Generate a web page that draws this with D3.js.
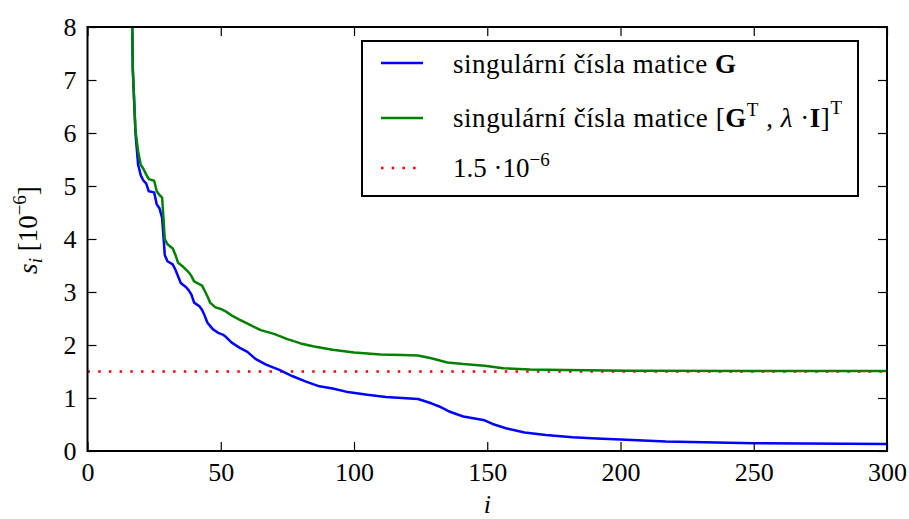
<!DOCTYPE html>
<html>
<head>
<meta charset="utf-8">
<script src="https://cdn.jsdelivr.net/npm/d3@7"></script>
<style>
    body { margin: 0; background: #fff; }
</style>
</head>
<body>
<div id="chart"></div>
<script>
// singular values, as [index, value in 1e-6]
var blueIdx = [1, 5, 10, 14, 16, 17, 18, 19, 20, 21, 22, 23, 25, 26, 27, 28, 29, 30, 32, 33, 35, 37, 38, 39, 40, 42, 43, 44, 45, 46, 47, 49, 51, 52, 54, 57, 60, 63, 67, 72, 77, 82, 87, 92, 97, 105, 112, 118, 124, 129, 132, 136, 141, 149, 152, 157, 164, 172, 182, 191, 200, 217, 250, 300];
var blueVal = [60, 35, 20, 13, 11, 7.2, 6.0, 5.4, 5.2, 5.1, 5.05, 4.9, 4.88, 4.65, 4.58, 4.4, 3.7, 3.58, 3.52, 3.42, 3.17, 3.09, 3.03, 2.95, 2.8, 2.73, 2.66, 2.55, 2.42, 2.36, 2.3, 2.23, 2.19, 2.15, 2.05, 1.95, 1.87, 1.74, 1.63, 1.53, 1.41, 1.31, 1.22, 1.18, 1.12, 1.06, 1.02, 1.0, 0.98, 0.9, 0.84, 0.74, 0.65, 0.58, 0.51, 0.43, 0.35, 0.30, 0.26, 0.235, 0.215, 0.178, 0.148, 0.132];

var greenIdx = [1, 5, 10, 14, 16, 17, 18, 19, 20, 21, 22, 23, 25, 26, 27, 28, 29, 30, 32, 33, 34, 36, 38, 39, 40, 43, 44, 45, 46, 48, 50, 52, 54, 57, 61, 65, 70, 75, 80, 85, 92, 100, 110, 118, 124, 129, 135, 141, 149, 156, 166, 179, 203, 250, 300];
var greenVal = [60, 35, 20, 13, 11, 7.2, 6.05, 5.65, 5.4, 5.32, 5.22, 5.13, 5.1, 4.9, 4.83, 4.78, 4.0, 3.9, 3.82, 3.7, 3.55, 3.47, 3.37, 3.3, 3.2, 3.12, 3.02, 2.92, 2.8, 2.71, 2.68, 2.63, 2.56, 2.48, 2.38, 2.28, 2.21, 2.11, 2.03, 1.97, 1.91, 1.86, 1.82, 1.81, 1.8, 1.75, 1.67, 1.64, 1.61, 1.56, 1.54, 1.53, 1.515, 1.51, 1.51];

var threshold = 1.5;
var xTicks = [0, 50, 100, 150, 200, 250, 300];
var yTicks = [0, 1, 2, 3, 4, 5, 6, 7, 8];

var serif = "Liberation Serif";

var totalWidth = 909,
    totalHeight = 519,
    margin = {top: 27, right: 22, bottom: 68, left: 87.5};

var width = totalWidth - margin.left - margin.right,
    height = totalHeight - margin.top - margin.bottom;

var xScale = d3.scaleLinear().domain([0, 300]).range([0, width]),
    yScale = d3.scaleLinear().domain([0, 8]).range([height, 0]);

var svg = d3.select("#chart").append("svg")
    .attr("width", totalWidth)
    .attr("height", totalHeight)
    .attr("font-family", serif);

var g = svg.append("g")
    .attr("transform", "translate(" + margin.left + "," + margin.top + ")");

g.append("clipPath").attr("id", "plotClip")
    .append("rect")
    .attr("width", width)
    .attr("height", height);

var toPoints = function(idx, vals) {
    return idx.map(function(d, i) { return [d, vals[i]]; });
};

var line = d3.line()
    .x(function(d) { return xScale(d[0]); })
    .y(function(d) { return yScale(d[1]); });

var plot = g.append("g").attr("clip-path", "url(#plotClip)");

plot.append("line")
    .attr("x1", xScale(0)).attr("x2", xScale(300))
    .attr("y1", yScale(threshold)).attr("y2", yScale(threshold))
    .attr("stroke", "#ff0000")
    .attr("stroke-width", 2.5)
    .attr("stroke-dasharray", "2.5,8.2");

plot.append("path")
    .datum(toPoints(blueIdx, blueVal))
    .attr("d", line)
    .attr("fill", "none")
    .attr("stroke", "#0000ff")
    .attr("stroke-width", 2.5)
    .attr("stroke-linejoin", "round");

plot.append("path")
    .datum(toPoints(greenIdx, greenVal))
    .attr("d", line)
    .attr("fill", "none")
    .attr("stroke", "#008000")
    .attr("stroke-width", 2.5)
    .attr("stroke-linejoin", "round");

// axes, ticks pointing inward on all four sides
var styleAxis = function(sel) {
    sel.attr("font-family", serif).attr("font-size", 26);
    sel.select(".domain").remove();
    sel.selectAll(".tick line").attr("stroke", "#000").attr("stroke-width", 1.2);
    sel.selectAll(".tick text").attr("fill", "#000");
};

g.append("g")
    .attr("transform", "translate(0," + height + ")")
    .call(d3.axisBottom(xScale).tickValues(xTicks).tickSizeInner(-9).tickSizeOuter(0).tickPadding(12))
    .call(styleAxis);

g.append("g")
    .call(d3.axisTop(xScale).tickValues(xTicks).tickSizeInner(-9).tickSizeOuter(0).tickFormat(""))
    .call(styleAxis);

g.append("g")
    .call(d3.axisLeft(yScale).tickValues(yTicks).tickSizeInner(-9).tickSizeOuter(0).tickPadding(11))
    .call(styleAxis);

g.append("g")
    .attr("transform", "translate(" + width + ",0)")
    .call(d3.axisRight(yScale).tickValues(yTicks).tickSizeInner(-9).tickSizeOuter(0).tickFormat(""))
    .call(styleAxis);

g.append("rect")
    .attr("width", width)
    .attr("height", height)
    .attr("fill", "none")
    .attr("stroke", "#000")
    .attr("stroke-width", 2);

// axis labels
g.append("text")
    .attr("x", width / 2)
    .attr("y", height + 62)
    .attr("text-anchor", "middle")
    .attr("font-size", 26)
    .attr("font-style", "italic")
    .text("i");

var yLab = g.append("text")
    .attr("transform", "translate(" + (37 - margin.left) + "," + (height / 2 - 9) + ") rotate(-90)")
    .attr("text-anchor", "middle")
    .attr("font-size", 27);
yLab.append("tspan").attr("font-style", "italic").text("s");
yLab.append("tspan").attr("font-style", "italic").attr("font-size", 19).attr("dy", 5).text("i");
yLab.append("tspan").attr("dy", -5).text(" [10");
yLab.append("tspan").attr("font-size", 19).attr("dy", -11).text("\u22126");
yLab.append("tspan").attr("dy", 11).text("]");

// legend
var legend = svg.append("g").attr("transform", "translate(362,41)");
legend.append("rect")
    .attr("width", 496)
    .attr("height", 155)
    .attr("fill", "#fff")
    .attr("stroke", "#000")
    .attr("stroke-width", 2);

var rows = [
    {color: "#0000ff", dash: null, y: 22},
    {color: "#008000", dash: null, y: 77},
    {color: "#ff0000", dash: "2.5,8.2", y: 127}
];

rows.forEach(function(r) {
    legend.append("line")
        .attr("x1", 19).attr("x2", 61)
        .attr("y1", r.y).attr("y2", r.y)
        .attr("stroke", r.color)
        .attr("stroke-width", 2.5)
        .attr("stroke-dasharray", r.dash);
});

var t1 = legend.append("text").attr("x", 91).attr("y", 32).attr("font-size", 27)
    .attr("textLength", 283).attr("lengthAdjust", "spacing");
t1.append("tspan").text("singulární čísla matice ");
t1.append("tspan").attr("font-weight", "bold").text("G");

var t2 = legend.append("text").attr("x", 91).attr("y", 86).attr("font-size", 27)
    .attr("textLength", 389).attr("lengthAdjust", "spacing");
t2.append("tspan").text("singulární čísla matice [");
t2.append("tspan").attr("font-weight", "bold").text("G");
t2.append("tspan").attr("font-size", 19).attr("dy", -11).text("T");
t2.append("tspan").attr("dy", 11).text(" , ");
t2.append("tspan").attr("font-style", "italic").text("λ");
t2.append("tspan").text(" ·");
t2.append("tspan").attr("font-weight", "bold").text("I");
t2.append("tspan").text("]");
t2.append("tspan").attr("font-size", 19).attr("dy", -13).text("T");

var t3 = legend.append("text").attr("x", 91).attr("y", 136).attr("font-size", 27);
t3.append("tspan").text("1.5 ·10");
t3.append("tspan").attr("font-size", 19).attr("dy", -11).text("\u22126");
</script>
</body>
</html>
